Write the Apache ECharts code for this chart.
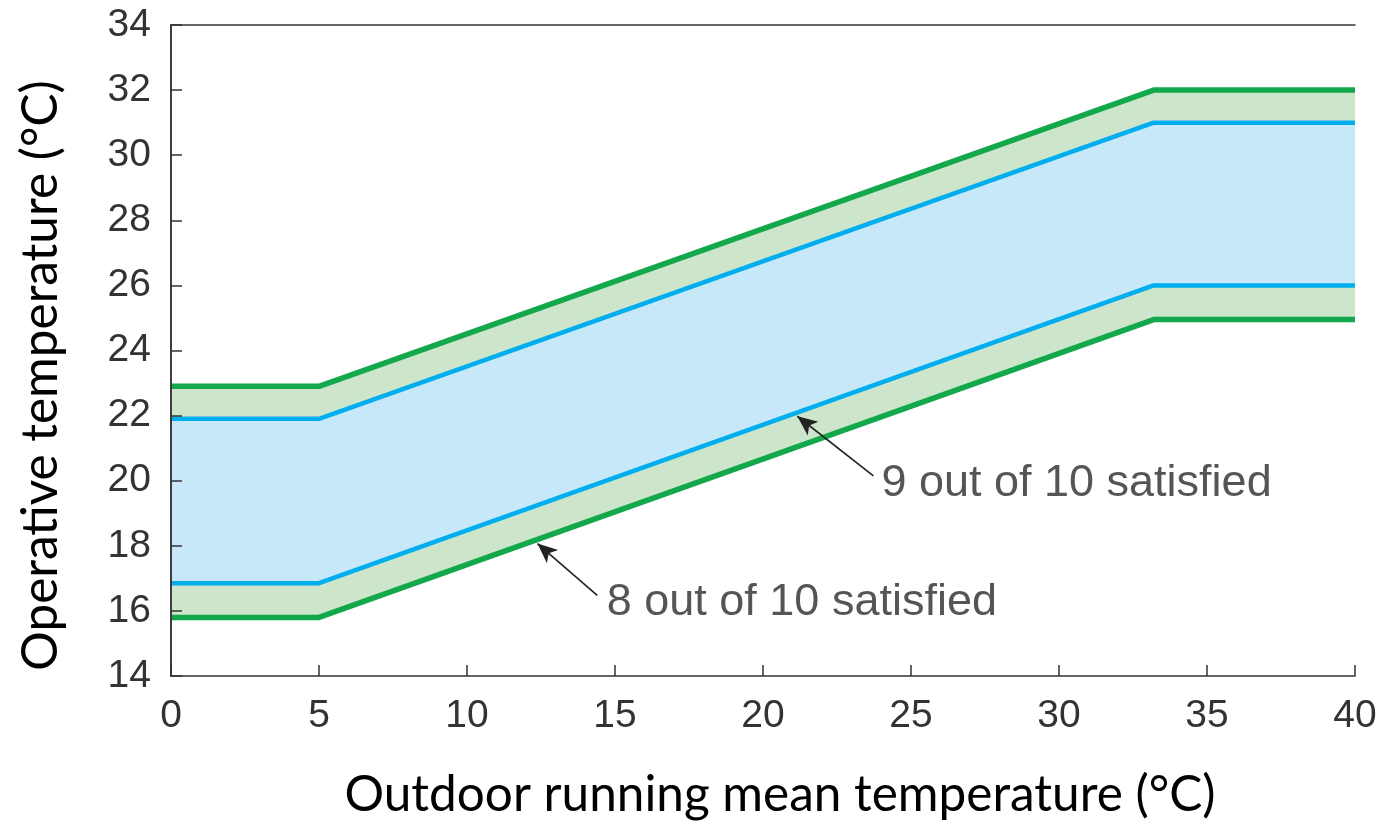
<!DOCTYPE html>
<html>
<head>
<meta charset="utf-8">
<script src="https://cdn.jsdelivr.net/npm/echarts@6/dist/echarts.min.js"></script>
<style>
  html, body { margin: 0; padding: 0; background: #fff; }
  #chart { width: 1381px; height: 825px; }
</style>
</head>
<body>
<div id="chart"></div>
<script>
// Outdoor running mean temperature (°C) breakpoints
const outdoorTemps = [0, 5, 33.2, 40];
// Boundary lines (operative temperature °C)
const upper80 = [22.9, 22.9, 32.0, 32.0];
const upper90 = [21.9, 21.9, 31.0, 31.0];
const lower90 = [16.85, 16.85, 26.0, 26.0];
const lower80 = [15.8, 15.8, 24.95, 24.95];
// Axis ticks
const xTicks = { min: 0, max: 40, interval: 5 };
const yTicks = { min: 14, max: 34, interval: 2 };
// Annotations
const annoLabels = ['9 out of 10 satisfied', '8 out of 10 satisfied'];
const annoTips = [[21.16, 21.98], [12.38, 18.07]];
const annoTails = [[23.73, 20.15], [14.4, 16.48]];
const annoText = [[24.0, 19.9], [14.72, 16.25]];

const GREEN = '#13A84B', BLUE = '#00AEEF';
const FILL_GREEN = '#CDE5CA', FILL_BLUE = '#C7E8F8';
const AX = '#333333';

const pair = (ys) => outdoorTemps.map((x, i) => [x, ys[i]]);

const fillBase = { type: 'line', symbol: 'none', lineStyle: { width: 0, opacity: 0 }, silent: true };
const lineBase = { type: 'line', symbol: 'none', silent: true, z: 4 };

const axisCommon = {
  type: 'value', z: 10,
  axisLine: { lineStyle: { color: AX, width: 1.5 } },
  axisTick: { inside: true, length: 11, lineStyle: { color: AX, width: 1.5 } },
  splitLine: { show: false }
};

const chart = echarts.init(document.getElementById('chart'));
chart.setOption({
  animation: false,
  backgroundColor: '#fff',
  grid: { left: 171, right: 26, top: 25, bottom: 146 },
  xAxis: [
    Object.assign({}, axisCommon, {
      min: xTicks.min, max: xTicks.max, interval: xTicks.interval, position: 'bottom',
      name: 'Outdoor running mean temperature (°C)', nameLocation: 'middle', nameGap: 94,
      nameTextStyle: { fontFamily: 'Lato', fontSize: 49.5, color: '#000', padding: [0, 0, 0, 34] },
      axisLabel: { fontFamily: 'Liberation Sans', fontSize: 39, color: AX, margin: 21 }
    }),
    Object.assign({}, axisCommon, {
      min: xTicks.min, max: xTicks.max, interval: xTicks.interval, position: 'top',
      axisTick: { show: false }, axisLabel: { show: false }
    })
  ],
  yAxis: [
    Object.assign({}, axisCommon, {
      min: yTicks.min, max: yTicks.max, interval: yTicks.interval, position: 'left',
      name: 'Operative temperature (°C)', nameLocation: 'middle', nameGap: 105, nameRotate: 90,
      nameTextStyle: { fontFamily: 'Lato', fontSize: 49.5, color: '#000', padding: [0, 50, 0, 0] },
      axisLabel: { fontFamily: 'Liberation Sans', fontSize: 39, color: AX, margin: 20 }
    }),
    Object.assign({}, axisCommon, {
      min: yTicks.min, max: yTicks.max, interval: yTicks.interval, position: 'right',
      axisTick: { show: false }, axisLabel: { show: false }
    })
  ],
  series: [
    Object.assign({}, fillBase, { name: 'fill-u80', z: 1, data: pair(upper80), areaStyle: { color: FILL_GREEN, opacity: 1, origin: 'start' } }),
    Object.assign({}, fillBase, { name: 'fill-u90', z: 2, data: pair(upper90), areaStyle: { color: FILL_BLUE, opacity: 1, origin: 'start' } }),
    Object.assign({}, fillBase, { name: 'fill-l90', z: 3, data: pair(lower90), areaStyle: { color: FILL_GREEN, opacity: 1, origin: 'start' } }),
    Object.assign({}, fillBase, { name: 'fill-l80', z: 3.5, data: pair(lower80), areaStyle: { color: '#ffffff', opacity: 1, origin: 'start' } }),
    Object.assign({}, lineBase, { name: 'upper80', data: pair(upper80), lineStyle: { color: GREEN, width: 5.5 } }),
    Object.assign({}, lineBase, { name: 'lower80', data: pair(lower80), lineStyle: { color: GREEN, width: 5.5 } }),
    Object.assign({}, lineBase, { name: 'upper90', data: pair(upper90), lineStyle: { color: BLUE, width: 4.5 } }),
    Object.assign({}, lineBase, { name: 'lower90', data: pair(lower90), lineStyle: { color: BLUE, width: 4.5 } }),
    {
      type: 'scatter', name: 'annotations', z: 6, silent: true,
      symbolSize: 0,
      data: annoText.map((p, i) => ({ value: p, name: annoLabels[i] })),
      label: {
        show: true, position: 'right', distance: 0, formatter: (p) => p.name,
        fontFamily: 'Liberation Sans', fontSize: 45, color: '#2a2a2a'
      },
      markLine: {
        silent: true, symbol: ['none', 'arrow'], symbolSize: [13, 20],
        lineStyle: { color: '#222', width: 1.6, type: 'solid' },
        label: { show: false },
        data: annoTips.map((tip, i) => [{ coord: annoTails[i] }, { coord: tip }])
      }
    }
  ]
});
</script>
</body>
</html>
